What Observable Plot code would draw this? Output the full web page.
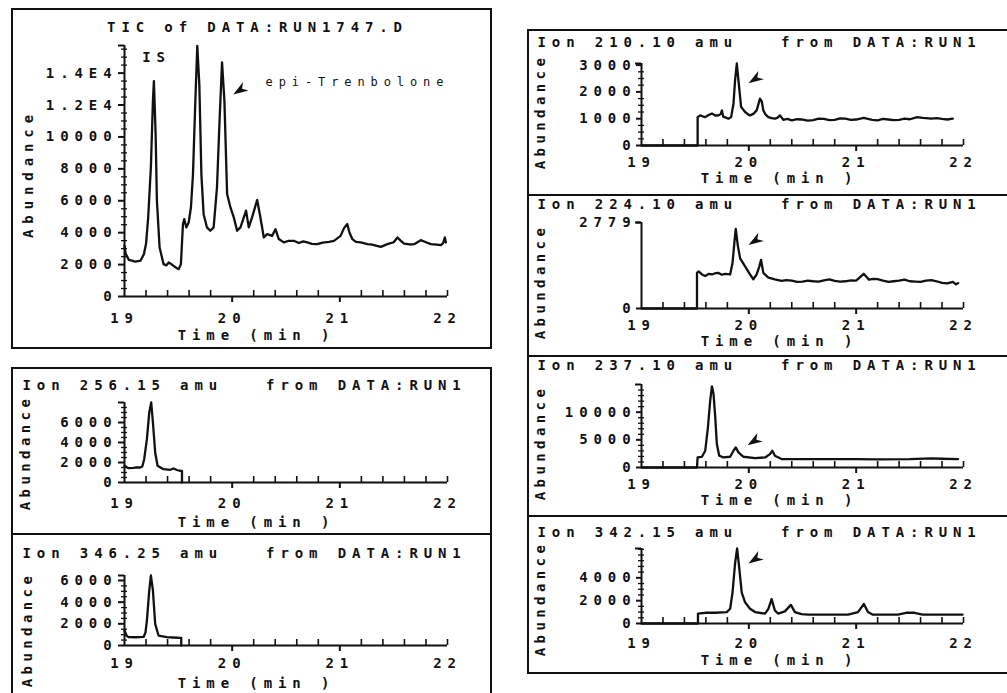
<!DOCTYPE html>
<html><head><meta charset="utf-8">
<script src="https://cdn.jsdelivr.net/npm/d3@7"></script>
<script src="https://cdn.jsdelivr.net/npm/@observablehq/plot@0.6"></script>
<style>
html,body{margin:0;padding:0;background:#fff;}
body{width:1007px;height:693px;position:relative;overflow:hidden;}
.pan{position:absolute;}
.pan svg{overflow:visible;}
.box{position:absolute;border:2px solid #111;box-sizing:border-box;}
.hl{position:absolute;height:2px;background:#111;}
svg text{white-space:pre;}
</style></head><body>
<div class="box" style="left:11px;top:8px;width:481px;height:341px"></div>
<div class="box" style="left:11px;top:367px;width:481px;height:345px"></div>
<div class="hl" style="left:11px;top:533px;width:481px"></div>
<div class="box" style="left:527px;top:29px;width:495px;height:645px"></div>
<div class="hl" style="left:527px;top:194px;width:480px"></div>
<div class="hl" style="left:527px;top:355px;width:480px"></div>
<div class="hl" style="left:527px;top:515px;width:480px"></div>
<script>
// ---------- data (time in min, abundance) ----------
const ticTrace = [[19.00,3180],[19.01,2700],[19.04,2300],[19.07,2250],[19.10,2180],[19.15,2250],[19.18,2650],[19.20,3300],[19.22,4950],[19.245,8100],[19.264,12260],[19.273,13500],[19.289,10200],[19.301,6000],[19.326,3070],[19.363,2030],[19.39,1950],[19.41,2130],[19.43,2050],[19.456,1920],[19.48,1800],[19.503,1715],[19.524,2030],[19.543,4540],[19.555,4850],[19.574,4330],[19.596,4640],[19.617,5580],[19.636,7670],[19.658,12260],[19.676,15710],[19.695,13300],[19.714,7670],[19.735,5160],[19.766,4330],[19.797,4120],[19.828,4330],[19.859,6840],[19.884,11220],[19.906,14670],[19.928,12260],[19.953,6420],[19.984,5580],[20.015,4960],[20.046,4120],[20.077,4330],[20.108,4960],[20.129,5380],[20.154,4330],[20.185,4960],[20.232,6050],[20.257,5160],[20.294,3700],[20.325,3910],[20.371,3800],[20.402,4220],[20.433,3600],[20.48,3390],[20.52,3480],[20.573,3490],[20.62,3350],[20.66,3450],[20.697,3390],[20.74,3300],[20.79,3280],[20.84,3380],[20.90,3420],[20.945,3490],[21.007,3800],[21.04,4300],[21.069,4540],[21.09,4000],[21.116,3600],[21.15,3420],[21.194,3390],[21.256,3280],[21.30,3250],[21.38,3110],[21.442,3280],[21.50,3400],[21.535,3700],[21.565,3500],[21.597,3320],[21.65,3260],[21.69,3280],[21.752,3530],[21.80,3400],[21.845,3280],[21.90,3250],[21.938,3220],[21.96,3350],[21.975,3700],[21.985,3390]];
const ion256 = [[19.00,1670],[19.037,1430],[19.084,1470],[19.11,1520],[19.146,1500],[19.165,1600],[19.183,2330],[19.208,4330],[19.230,7000],[19.248,8000],[19.264,6000],[19.285,3000],[19.307,1670],[19.363,1330],[19.425,1270],[19.456,1400],[19.487,1250],[19.518,1170],[19.534,1170],[19.534,0]];
const ion346 = [[19.00,1385],[19.02,900],[19.037,770],[19.10,760],[19.177,790],[19.195,1200],[19.208,2300],[19.230,5080],[19.245,6460],[19.264,5080],[19.285,2000],[19.316,920],[19.394,770],[19.45,740],[19.518,710],[19.527,710],[19.527,0]];
const ion210 = [[19.00,0],[19.523,0],[19.523,1060],[19.547,1125],[19.569,1090],[19.594,1060],[19.625,1140],[19.656,1190],[19.687,1120],[19.718,1125],[19.739,1180],[19.749,1310],[19.761,1080],[19.786,1040],[19.810,1000],[19.835,1060],[19.857,1560],[19.872,2440],[19.888,3060],[19.903,2440],[19.928,1440],[19.965,1250],[19.996,1150],[20.011,1125],[20.042,1180],[20.073,1310],[20.104,1750],[20.120,1650],[20.135,1310],[20.157,1150],[20.182,1060],[20.212,1020],[20.243,1000],[20.268,1040],[20.290,1125],[20.321,960],[20.36,990],[20.40,940],[20.45,980],[20.50,970],[20.55,930],[20.60,950],[20.65,1000],[20.70,990],[20.75,950],[20.80,960],[20.85,1010],[20.90,1000],[20.95,960],[21.00,970],[21.07,1030],[21.10,1000],[21.15,960],[21.20,940],[21.25,990],[21.30,970],[21.35,950],[21.40,960],[21.45,1000],[21.50,980],[21.57,1060],[21.62,1030],[21.65,1020],[21.70,1000],[21.75,1020],[21.80,990],[21.85,970],[21.90,1000]];
const ion224 = [[19.00,0],[19.517,0],[19.517,1150],[19.532,1200],[19.563,1100],[19.594,1050],[19.625,1120],[19.656,1100],[19.687,1140],[19.718,1150],[19.749,1090],[19.779,1120],[19.826,1100],[19.848,1470],[19.866,2150],[19.878,2570],[19.897,2040],[19.919,1620],[19.965,1360],[20.011,1100],[20.042,940],[20.073,1100],[20.098,1360],[20.114,1570],[20.135,1150],[20.182,1000],[20.243,940],[20.305,890],[20.35,920],[20.40,900],[20.45,860],[20.50,870],[20.55,900],[20.60,880],[20.65,870],[20.70,910],[20.75,940],[20.80,890],[20.85,870],[20.90,880],[20.95,910],[21.00,900],[21.07,1120],[21.12,930],[21.16,960],[21.20,950],[21.25,900],[21.30,860],[21.35,880],[21.40,900],[21.45,930],[21.50,880],[21.55,870],[21.60,860],[21.65,900],[21.70,920],[21.75,880],[21.80,830],[21.85,810],[21.90,860],[21.93,780],[21.95,820]];
const ion237 = [[19.00,0],[19.517,0],[19.523,1820],[19.563,1940],[19.594,3030],[19.619,7270],[19.640,12100],[19.656,14670],[19.671,13330],[19.687,9090],[19.702,4240],[19.724,2120],[19.764,1820],[19.826,1940],[19.857,3030],[19.878,3640],[19.903,2730],[19.950,1940],[20.058,1700],[20.151,1820],[20.197,2420],[20.219,3030],[20.243,2120],[20.305,1520],[20.50,1520],[20.80,1500],[21.00,1520],[21.20,1480],[21.50,1500],[21.70,1640],[21.80,1580],[21.95,1520]];
const ion342 = [[19.00,0],[19.526,0],[19.526,860],[19.594,940],[19.687,940],[19.795,1000],[19.826,1290],[19.848,2710],[19.872,5290],[19.891,6570],[19.909,5000],[19.934,2710],[19.965,1860],[20.011,1290],[20.058,1000],[20.151,860],[20.182,1290],[20.212,2140],[20.243,1140],[20.274,860],[20.336,1060],[20.392,1630],[20.429,1000],[20.491,830],[20.553,770],[20.924,770],[21.017,1000],[21.072,1710],[21.110,1000],[21.156,770],[21.388,770],[21.465,940],[21.543,940],[21.620,770],[21.991,770]];

// tick values / labels
const xLabels = [19, 20, 21, 22];
const xMajor = [20, 21];
const xMinor = [19.2,19.4,19.6,19.8,20.2,20.4,20.6,20.8,21.2,21.4,21.6,21.8,22];
const ticY = [0,2000,4000,6000,8000,10000,12000,14000];
const ticYLabels = ["0","2000","4000","6000","8000","10000","1.2E4","1.4E4"];
const ion256Y = [0,2000,4000,6000];
const ion346Y = [0,2000,4000,6000];
const ion210Y = [0,1000,2000,3000];
const ion224Y = [0,2779];
const ion237Y = [0,5000,10000];
const ion342Y = [0,2000,4000];

// annotations
const ticArrows = [[20.01,12660]];
const ticNotes = [{t:19.297, v:14980, s:"IS"}];
const ticNamed = [{t:20.31, v:13420, s:"epi-Trenbolone"}];
const arrows210 = [[19.997,2320]];
const arrows224 = [[19.997,2050]];
const arrows237 = [[19.988,4000]];
const arrows342 = [[19.997,5260]];

// ---------- layout ----------
const FONT = "'DejaVu Sans Mono','Liberation Mono',monospace";
const INK = "#111";
const L = {
  tic: {left:12, top:9,   width:479, height:339, x0:124, x1:447, y0:296, yTop:45,  ymax:15730},
  a256:{left:12, top:368, width:479, height:166, x0:124, x1:447, y0:482, yTop:402, ymax:8000},
  a346:{left:12, top:534, width:479, height:159, x0:124, x1:447, y0:645, yTop:575, ymax:6460},
  a210:{left:528,top:30,  width:479, height:165, x0:641, x1:963, y0:145, yTop:63,  ymax:3060},
  a224:{left:528,top:195, width:479, height:161, x0:641, x1:963, y0:308, yTop:222, ymax:2779},
  a237:{left:528,top:356, width:479, height:160, x0:641, x1:963, y0:467, yTop:384, ymax:15000},
  a342:{left:528,top:516, width:479, height:157, x0:641, x1:963, y0:623, yTop:548, ymax:6570}
};

const wedge = {draw(ctx){ctx.moveTo(0,0);ctx.lineTo(-15,-5);ctx.lineTo(-10.5,0);ctx.lineTo(-15,5);ctx.closePath();}};

function panel(g, trace, o) {
  const mL = g.x0 - g.left, mR = g.left + g.width - g.x1;
  const mT = g.yTop - g.top, mB = g.top + g.height - g.y0;
  const lab = (s, px, py, a = {}) => Plot.text([s], {
    text: d => d, frameAnchor: "top-left", dx: px - g.x0, dy: py - g.yTop,
    textAnchor: a.anchor || "start", lineAnchor: "middle", rotate: a.rotate || 0,
    fontSize: a.size || 14, fill: INK
  });
  const fmt = o.yLabels ? (d => o.yLabels[o.yTicks.indexOf(d)]) : (d => String(d));
  const marks = [
    Plot.ruleX([19], {y1: 0, y2: g.ymax, stroke: INK, strokeWidth: 2}),
    Plot.ruleY([0], {x1: 19, x2: 22, stroke: INK, strokeWidth: 2}),
    Plot.axisY({ticks: o.yTicks, tickFormat: fmt, tickSize: o.yTick, tickPadding: o.yPad, label: null, color: INK, strokeWidth: 2}),
    Plot.axisY({ticks: [g.ymax], tickSize: 6, tickFormat: () => "", label: null, color: INK, strokeWidth: 2}),
    Plot.axisX({ticks: xLabels, tickSize: 0, tickPadding: o.xPad + 5, tickFormat: d => String(d), label: null, color: INK}),
    Plot.axisX({ticks: xMajor, tickSize: 6, tickFormat: () => "", label: null, color: INK, strokeWidth: 2}),
    Plot.axisX({ticks: xMinor, tickSize: 6, dy: -6, tickFormat: () => "", label: null, color: INK, strokeWidth: 1.6}),
    Plot.line(trace, {x: d => d[0], y: d => d[1], stroke: INK, strokeWidth: 2.3, strokeLinejoin: "round"}),
    Plot.dot(o.arrows, {x: d => d[0], y: d => d[1], symbol: wedge, r: 5, fill: INK, stroke: null, rotate: 147})
  ];
  if (o.yMinorStep) {
    const minor = d3.range(o.yMinorStep, g.ymax, o.yMinorStep).filter(v => !o.yTicks.includes(v));
    marks.push(Plot.axisY({ticks: minor, tickSize: 6, dx: 3, tickFormat: () => "", label: null, color: INK, strokeWidth: 1.3}));
  }
  for (const t of o.texts) marks.push(lab(...t));
  if (o.extra) marks.push(...o.extra);
  const svg = Plot.plot({
    width: g.width, height: g.height,
    marginLeft: mL, marginRight: mR, marginTop: mT, marginBottom: mB,
    x: {domain: [19, 22]}, y: {domain: [0, g.ymax]},
    style: `font-family:${FONT};font-size:14px;font-weight:bold;letter-spacing:5.9px;background:transparent;color:${INK};overflow:visible;`,
    marks
  });
  if (o.tightAbund) {
    d3.select(svg).selectAll("text").filter(function() { return this.textContent === "Abundance"; })
      .style("letter-spacing", "4.4px");
  }
  const div = document.createElement("div");
  div.className = "pan";
  div.style.left = g.left + "px"; div.style.top = g.top + "px";
  div.appendChild(svg);
  document.body.appendChild(div);
}

const ionTitle = m => `Ion ${m} amu   from DATA:RUN1`;
const V = {anchor: "middle", rotate: -90};
const C = {anchor: "middle"};

panel(L.tic, ticTrace, {
  yTicks: ticY, yLabels: ticYLabels, yTick: 6, yPad: 1, yMinorStep: 500, xPad: 11.2, arrows: ticArrows,
  texts: [["TIC of DATA:RUN1747.D", 257, 27, C],
          ["Abundance", 28, 173, V],
          ["Time (min )", 256, 335, C]],
  extra: [
    Plot.text(ticNotes, {x: "t", y: "v", text: "s", textAnchor: "middle", lineAnchor: "middle", fill: INK}),
    Plot.text(ticNamed, {x: "t", y: "v", text: "s", textAnchor: "start", lineAnchor: "middle", fontSize: 12, fontWeight: "normal", fill: INK})
  ]
});
panel(L.a256, ion256, {
  yTicks: ion256Y, yTick: 6, yPad: 1, yMinorStep: 500, xPad: 10.2, arrows: [], tightAbund: true,
  texts: [[ionTitle("256.15"), 22, 385], ["Abundance", 25, 452, V], ["Time (min )", 256, 522, C]]
});
panel(L.a346, ion346, {
  yTicks: ion346Y, yTick: 6, yPad: 1, yMinorStep: 500, xPad: 7.2, arrows: [], tightAbund: true,
  texts: [[ionTitle("346.25"), 22, 553], ["Abundance", 27, 629, V], ["Time (min )", 256, 683, C]]
});
panel(L.a210, ion210, {
  yTicks: ion210Y, yTick: 5, yPad: 0, yMinorStep: 250, xPad: 6.2, arrows: arrows210, tightAbund: true,
  texts: [[ionTitle("210.10"), 537, 42], ["Abundance", 540, 111, V], ["Time (min )", 779, 178, C]]
});
panel(L.a224, ion224, {
  yTicks: ion224Y, yTick: 5, yPad: 0, yMinorStep: 0, xPad: 6.2, arrows: arrows224, tightAbund: true,
  texts: [[ionTitle("224.10"), 537, 204], ["Abundance", 540, 281, V], ["Time (min )", 779, 341, C]]
});
panel(L.a237, ion237, {
  yTicks: ion237Y, yTick: 5, yPad: 0, yMinorStep: 1000, xPad: 6.2, arrows: arrows237, tightAbund: true,
  texts: [[ionTitle("237.10"), 537, 365], ["Abundance", 540, 442, V], ["Time (min )", 779, 500, C]]
});
panel(L.a342, ion342, {
  yTicks: ion342Y, yTick: 5, yPad: 0, yMinorStep: 500, xPad: 9.2, arrows: arrows342, tightAbund: true,
  texts: [[ionTitle("342.15"), 537, 532], ["Abundance", 540, 598, V], ["Time (min )", 779, 660, C]]
});
</script></body></html>
